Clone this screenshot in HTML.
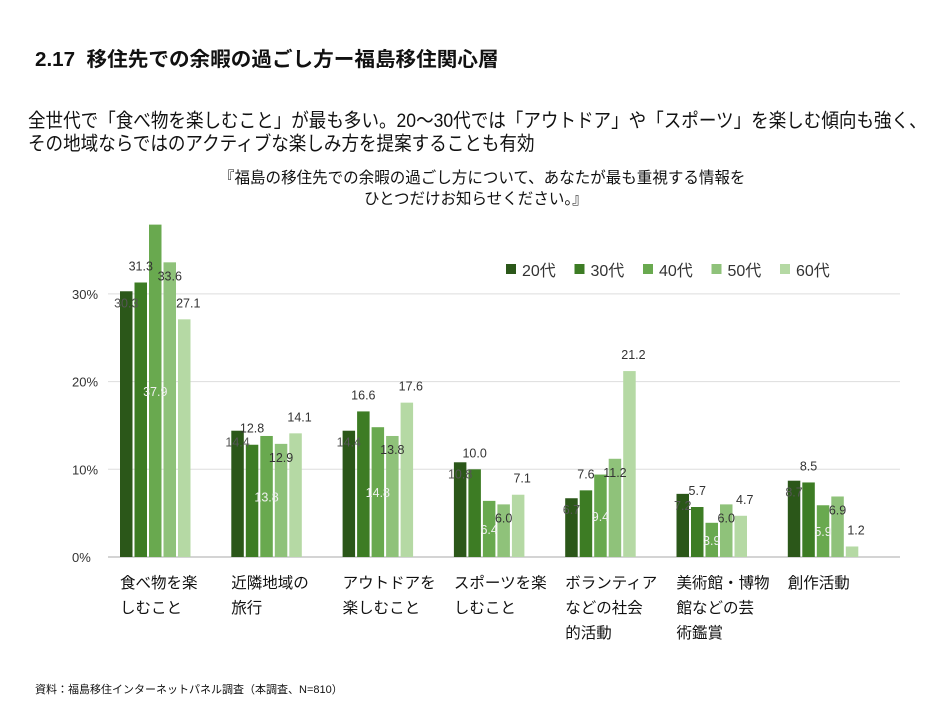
<!DOCTYPE html>
<html><head><meta charset="utf-8">
<style>
body{margin:0;background:#fff;width:949px;height:713px;overflow:hidden;font-family:"Liberation Sans","Noto Sans CJK JP",sans-serif;}
.t{position:absolute;white-space:nowrap;color:#111;}
</style></head><body>
<div class="t" style="left:35px;top:43px;font-size:20px;font-weight:bold;transform:scaleX(1.03);transform-origin:left;">2.17&nbsp; 移住先での余暇の過ごし方ー福島移住関心層</div>
<div class="t" style="left:28px;top:104px;font-size:19.5px;transform:scaleX(0.9);transform-origin:left;">全世代で「食べ物を楽しむこと」が最も多い。20～30代では「アウトドア」や「スポーツ」を楽しむ傾向も強く、</div>
<div class="t" style="left:28px;top:127px;font-size:19.5px;transform:scaleX(0.9);transform-origin:left;">その地域ならではのアクティブな楽しみ方を提案することも有効</div>
<div class="t" style="left:219px;top:164px;font-size:16px;transform:scaleX(0.97);transform-origin:left;">『福島の移住先での余暇の過ごし方について、あなたが最も重視する情報を</div>
<div class="t" style="left:364px;top:185px;font-size:16px;transform:scaleX(0.97);transform-origin:left;">ひとつだけお知らせください。』</div>
<div class="t" style="left:35px;top:681px;font-size:11px;">資料：福島移住インターネットパネル調査（本調査、N=810）</div>
<svg id="chart" width="949" height="713" style="position:absolute;left:0;top:0;"></svg>
<script>
const categories=[["食べ物を楽","しむこと"],["近隣地域の","旅行"],["アウトドアを","楽しむこと"],["スポーツを楽","しむこと"],["ボランティア","などの社会","的活動"],["美術館・博物","館などの芸","術鑑賞"],["創作活動"]];
const seriesNames=["20代","30代","40代","50代","60代"];
const s20=[30.3,14.4,14.4,10.8,6.7,7.2,8.7];
const s30=[31.3,12.8,16.6,10.0,7.6,5.7,8.5];
const s40=[37.9,13.8,14.8,6.4,9.4,3.9,5.9];
const s50=[33.6,12.9,13.8,6.0,11.2,6.0,6.9];
const s60=[27.1,14.1,17.6,7.1,21.2,4.7,1.2];
const yTicks=[0,10,20,30];
const yTickLabels=["0%","10%","20%","30%"];
const series=[s20,s30,s40,s50,s60];
const colors=["#2b5719","#3d7c24","#69a94f","#8fc27a","#b5d9a4"];
const svg=document.getElementById('chart');
const NS="http://www.w3.org/2000/svg";
const y0=557,pxPer=8.77,gx0=120,gStep=111.3,bw=12.5,bStep=14.5;
const Y=v=>y0-v*pxPer;
const X=(g,s)=>gx0+g*gStep+s*bStep;
function mk(tag,attrs){const e=document.createElementNS(NS,tag);for(const k in attrs)e.setAttribute(k,attrs[k]);svg.appendChild(e);return e;}
yTicks.forEach((t,i)=>{
  const l=mk('line',{x1:108,x2:900,y1:Y(t),y2:Y(t),stroke:t===0?'#aaa':'#ddd','stroke-width':1});
  
  
  const tx=mk('text',{x:72,y:Y(t)+5,'font-size':13,fill:'#333'});
  tx.textContent=yTickLabels[i];
  
  
});
categories.forEach((c,g)=>{
  c.forEach((line,li)=>{
    const tx=mk('text',{x:gx0+g*gStep,y:588+li*25,'font-size':15.5,fill:'#111'});
    tx.textContent=line;
    
    
  });
  series.forEach((s,si)=>{
    const v=s[g];
    const r=mk('rect',{x:X(g,si),y:Y(v),width:bw,height:v*pxPer,fill:colors[si]});
    
    
  });
});
categories.forEach((c,g)=>{
  series.forEach((s,si)=>{
    const v=s[g];
    let ly,fill='#333',lx=X(g,si)+bw/2;
    if(si===0){ly=Y(v)+16;fill='#555';}
    else if(si===1){ly=Y(v)-12;}
    else if(si===2){ly=Y(v/2)+5;fill='#f0f0f0';}
    else if(si===3){ly=Y(v)+18;}
    else {ly=Y(v)-12;lx+=4;}
    const tx=mk('text',{x:lx,y:ly,'font-size':12.5,fill:fill,'text-anchor':'middle'});
    tx.textContent=v.toFixed(1);
    
    
  });
});
seriesNames.forEach((n,i)=>{
  const lx=506+i*68.5;
  const r=mk('rect',{x:lx,y:264,width:10,height:10,fill:colors[i]});
  
  
  const tx=mk('text',{x:lx+16,y:276,'font-size':16,fill:'#333'});
  tx.textContent=n;
  
  
});
</script>
</body></html>
